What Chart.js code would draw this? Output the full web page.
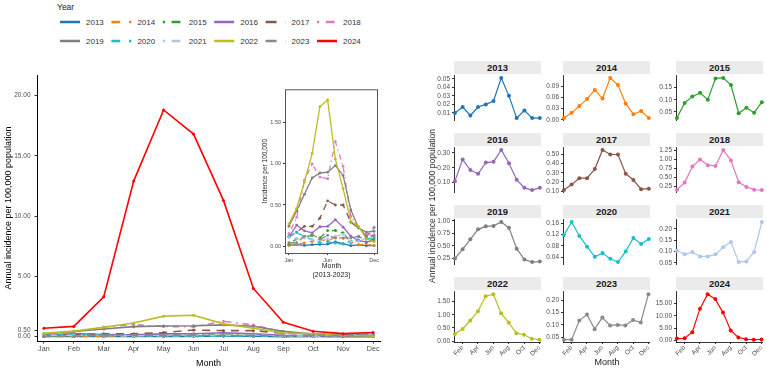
<!DOCTYPE html>
<html>
<head>
<meta charset="utf-8">
<script src="https://cdn.jsdelivr.net/npm/chart.js@4.4.1/dist/chart.umd.min.js"></script>
<style>
  body { margin: 0; width: 767px; height: 370px; overflow: hidden; background: #fff; position: relative;
         font-family: "Liberation Sans", Arial, sans-serif; color: #1a1a1a; }
  canvas { position: absolute; }
  .txt { position: absolute; white-space: nowrap; }
  .strip { position: absolute; background: #ebebeb; font-weight: bold; font-size: 9.5px; text-align: center;
           line-height: 13px; height: 13px; color: #1a1a1a; }
</style>
</head>
<body>
<script>
// ---- data ----
const months = ['Jan', 'Feb', 'Mar', 'Apr', 'May', 'Jun', 'Jul', 'Aug', 'Sep', 'Oct', 'Nov', 'Dec'];
const years = ['2013', '2014', '2015', '2016', '2017', '2018', '2019', '2020', '2021', '2022', '2023', '2024'];

const inc2013 = [0.010, 0.017, 0.007, 0.017, 0.020, 0.024, 0.051, 0.030, 0.004, 0.013, 0.004, 0.004];
const inc2014 = [0.005, 0.019, 0.037, 0.056, 0.080, 0.057, 0.112, 0.093, 0.044, 0.015, 0.024, 0.005];
const inc2015 = [0.025, 0.087, 0.113, 0.128, 0.100, 0.187, 0.189, 0.160, 0.045, 0.067, 0.047, 0.090];
const inc2016 = [0.11, 0.255, 0.185, 0.16, 0.235, 0.24, 0.32, 0.23, 0.12, 0.065, 0.05, 0.065];
const inc2017 = [0.11, 0.17, 0.24, 0.24, 0.34, 0.55, 0.50, 0.50, 0.29, 0.22, 0.12, 0.125];
const inc2018 = [0.15, 0.35, 0.80, 1.00, 0.84, 0.82, 1.27, 0.97, 0.36, 0.23, 0.15, 0.14];
const inc2019 = [0.24, 0.43, 0.63, 0.83, 0.89, 0.90, 0.98, 0.86, 0.44, 0.22, 0.17, 0.18];
const inc2020 = [0.118, 0.165, 0.115, 0.077, 0.041, 0.054, 0.034, 0.022, 0.060, 0.108, 0.086, 0.104];
const inc2021 = [0.103, 0.088, 0.097, 0.078, 0.078, 0.087, 0.118, 0.142, 0.053, 0.056, 0.098, 0.230];
const inc2022 = [0.27, 0.46, 0.78, 1.13, 1.70, 1.78, 1.06, 0.70, 0.30, 0.24, 0.09, 0.05];
const inc2023 = [0.040, 0.040, 0.118, 0.142, 0.083, 0.130, 0.098, 0.100, 0.098, 0.120, 0.110, 0.225];
const inc2024 = [0.7, 0.85, 3.3, 12.9, 18.8, 16.8, 11.3, 4.0, 1.2, 0.45, 0.25, 0.35];
const series = [inc2013, inc2014, inc2015, inc2016, inc2017, inc2018, inc2019, inc2020, inc2021, inc2022, inc2023, inc2024];

const mainTicks = [0, 0.5, 5, 10, 15, 20];
const insetTicks = [0, 0.5, 1, 1.5];
const insetMonthTicks = [1, 6, 12];
const panelSteps = [0.01, 0.03, 0.05, 0.1, 0.1, 0.25, 0.25, 0.04, 0.05, 0.5, 0.05, 5];

// ---- styles ----
const colors = ['#1f77b4', '#ff7f0e', '#2ca02c', '#9467bd', '#8c564b', '#e377c2',
                '#7f7f7f', '#17becf', '#aec7e8', '#bcbd22', '#8a8a8a', '#ff0000'];
const lineTypes = ['solid', 'dashed', 'dotdash', 'solid', 'longdash', 'dotdash',
                   'solid', 'dashed', 'dotdash', 'solid', 'longdash', 'solid'];
function dash(i, u) {
  const t = lineTypes[i];
  if (t === 'dashed') return [4 * u, 4 * u];
  if (t === 'longdash') return [5 * u, 4 * u];
  if (t === 'dotdash') return [u, 3 * u, 4 * u, 3 * u];
  return [];
}

Chart.defaults.font.family = '"Liberation Sans", Arial, sans-serif';
Chart.defaults.animation = false;
Chart.defaults.events = [];
Chart.defaults.plugins.legend.display = false;
Chart.defaults.plugins.tooltip.enabled = false;

const tickGray = '#4d4d4d';

function addText(txt, x, y, size, opts = {}) {
  const d = document.createElement('div');
  d.className = 'txt';
  d.textContent = txt;
  d.style.left = x + 'px';
  d.style.top = y + 'px';
  d.style.fontSize = size + 'px';
  if (opts.rotate) d.style.transform = 'translate(-50%,-50%) rotate(-90deg)';
  else if (opts.center) d.style.transform = 'translate(-50%,-50%)';
  else d.style.transform = 'translate(0,-50%)';
  if (opts.color) d.style.color = opts.color;
  document.body.appendChild(d);
}

function makeCanvas(left, top, w, h) {
  const c = document.createElement('canvas');
  c.width = w; c.height = h;
  c.style.left = left + 'px'; c.style.top = top + 'px';
  c.style.width = w + 'px'; c.style.height = h + 'px';
  document.body.appendChild(c);
  return c;
}

function pts(vals) { return vals.map((v, j) => ({ x: j + 1, y: v })); }

// ---- legend ----
addText('Year', 57, 7, 8.5);
const svgNS = 'http://www.w3.org/2000/svg';
const svg = document.createElementNS(svgNS, 'svg');
svg.setAttribute('width', '400'); svg.setAttribute('height', '55');
svg.style.position = 'absolute'; svg.style.left = '0'; svg.style.top = '0';
document.body.appendChild(svg);
years.forEach((y, i) => {
  const x0 = 60 + (i % 6) * 51.4;
  const yy = i < 6 ? 22 : 41;
  const ln = document.createElementNS(svgNS, 'line');
  ln.setAttribute('x1', x0); ln.setAttribute('x2', x0 + 20);
  ln.setAttribute('y1', yy); ln.setAttribute('y2', yy);
  ln.setAttribute('stroke', colors[i]); ln.setAttribute('stroke-width', '2.5');
  const d = dash(i, 2.2);
  if (d.length) ln.setAttribute('stroke-dasharray', d.join(' '));
  svg.appendChild(ln);
  addText(y, x0 + 26, yy, 8, { color: '#333' });
});

// ---- main chart ----
const mainDatasets = years.map((y, i) => ({
  label: y,
  data: pts(series[i]),
  borderColor: colors[i],
  backgroundColor: colors[i],
  borderWidth: 1.6,
  borderDash: dash(i, 1.6),
  pointRadius: 1.5,
  pointBorderWidth: 0,
  order: years.length - i,
  clip: false
}));

new Chart(makeCanvas(0, 60, 392, 310), {
  type: 'line',
  data: { datasets: mainDatasets },
  options: {
    responsive: false,
    layout: { padding: { top: 15, right: 12, left: 0, bottom: 0 } },
    scales: {
      x: {
        type: 'linear', min: 0.77, max: 12.23,
        afterBuildTicks: s => { s.ticks = months.map((m, j) => ({ value: j + 1 })); },
        afterFit: s => { s.height = 29; },
        ticks: { callback: v => months[v - 1], color: tickGray, font: { size: 7.2 }, autoSkip: false, maxRotation: 0, padding: 1 },
        grid: { drawOnChartArea: false, tickLength: 2.5, color: '#333' },
        border: { color: '#000', width: 1 },
        title: { display: true, text: 'Month', color: '#000', font: { size: 9 }, padding: { top: 0, bottom: 1 } }
      },
      y: {
        min: -0.36, max: 21.7,
        afterBuildTicks: s => { s.ticks = mainTicks.map(v => ({ value: v })); },
        afterFit: s => { s.width = 37; },
        ticks: { callback: v => v.toFixed(2), color: tickGray, font: { size: 6.5 }, autoSkip: false, padding: 4 },
        grid: { drawOnChartArea: false, tickLength: 2.5, color: '#333' },
        border: { color: '#000', width: 1 },
        title: { display: true, text: 'Annual incidence per 100,000 population', color: '#000', font: { size: 9 }, padding: { top: 3, bottom: 0 } }
      }
    }
  }
});

// ---- inset (2013-2023) ----
const boxPlugin = {
  id: 'box',
  beforeDraw(chart) {
    const a = chart.chartArea, ctx = chart.ctx;
    ctx.save();
    ctx.fillStyle = '#fff';
    ctx.fillRect(a.left, a.top, a.right - a.left, a.bottom - a.top);
    ctx.restore();
  },
  afterDraw(chart) {
    const a = chart.chartArea, ctx = chart.ctx;
    ctx.save();
    ctx.strokeStyle = '#555';
    ctx.lineWidth = 1;
    ctx.strokeRect(a.left + 0.5, a.top + 0.5, a.right - a.left - 1, a.bottom - a.top);
    ctx.restore();
  }
};

const insetDatasets = years.slice(0, 11).map((y, i) => ({
  label: y,
  data: pts(series[i]),
  borderColor: colors[i],
  backgroundColor: colors[i],
  borderWidth: 1.3,
  borderDash: dash(i, 1.3),
  pointRadius: 1.4,
  pointBorderWidth: 0,
  order: 11 - i
}));

new Chart(makeCanvas(258, 84, 124, 196), {
  type: 'line',
  data: { datasets: insetDatasets },
  plugins: [boxPlugin],
  options: {
    responsive: false,
    layout: { padding: { top: 4, right: 3, left: 0, bottom: 0 } },
    scales: {
      x: {
        type: 'linear', min: 0.49, max: 12.51,
        afterBuildTicks: s => { s.ticks = insetMonthTicks.map(v => ({ value: v })); },
        afterFit: s => { s.height = 27; },
        ticks: { callback: v => months[v - 1], color: tickGray, font: { size: 5.5 }, autoSkip: false, maxRotation: 0, padding: 2 },
        grid: { drawOnChartArea: false, tickLength: 2, color: '#333' },
        border: { display: false },
        title: { display: true, text: ['Month', '(2013-2023)'], color: '#1a1a1a', font: { size: 7 }, padding: { top: 0, bottom: 1 } }
      },
      y: {
        min: -0.085, max: 1.91,
        afterBuildTicks: s => { s.ticks = insetTicks.map(v => ({ value: v })); },
        afterFit: s => { s.width = 27; },
        ticks: { callback: v => v.toFixed(2), color: tickGray, font: { size: 5.5 }, autoSkip: false, padding: 2 },
        grid: { drawOnChartArea: false, tickLength: 2, color: '#333' },
        border: { display: false },
        title: { display: true, text: 'Incidence per 100,000', color: '#1a1a1a', font: { size: 6.5 }, padding: { top: 3, bottom: 1 } }
      }
    }
  }
});

// ---- small multiples ----
const colX = [454, 563, 676];
const rowTop = [61, 133, 205, 277];
const stripH = 13, plotH = 52, plotW = 87;

years.forEach((y, k) => {
  const r = Math.floor(k / 3), c = k % 3;
  const bottomRow = r === 3;
  const vals = series[k];
  const lo = Math.min(...vals), hi = Math.max(...vals);
  const ex = (hi - lo) * 0.05;
  const step = panelSteps[k];
  const cv = makeCanvas(colX[c] - 30, rowTop[r] + stripH - 4, 30 + plotW + 4, plotH + 4 + (bottomRow ? 24 : 0));
  new Chart(cv, {
    type: 'line',
    data: {
      datasets: [{
        label: y, data: pts(vals),
        borderColor: colors[k], backgroundColor: colors[k],
        borderWidth: 1.2, pointRadius: 2, pointBorderWidth: 0, clip: false
      }]
    },
    options: {
      responsive: false,
      layout: { padding: { top: 4, right: 4, left: 0, bottom: 0 } },
      scales: {
        x: {
          type: 'linear', min: 0.88, max: 12.15, display: bottomRow,
          afterBuildTicks: s => { s.ticks = [2, 4, 6, 8, 10, 12].map(v => ({ value: v })); },
          afterFit: s => { s.height = bottomRow ? 24 : 0; },
          ticks: { callback: v => months[v - 1], color: tickGray, font: { size: 6.5 }, autoSkip: false,
                   maxRotation: 45, minRotation: 45, padding: 0 },
          grid: { drawOnChartArea: false, tickLength: 2, color: '#333' },
          border: { color: '#000', width: 0.8 }
        },
        y: {
          min: lo - ex, max: hi + ex,
          afterBuildTicks: s => {
            const t = [];
            for (let v = Math.ceil((s.min - 1e-9) / step) * step; v <= s.max + 1e-9; v += step) t.push({ value: v });
            s.ticks = t;
          },
          afterFit: s => { s.width = 30; },
          ticks: { callback: v => v.toFixed(2), color: tickGray, font: { size: 6.5 }, autoSkip: false, padding: 2 },
          grid: { drawOnChartArea: false, tickLength: 2, color: '#333' },
          border: { color: '#000', width: 0.8 }
        }
      }
    }
  });
  const s = document.createElement('div');
  s.className = 'strip';
  s.textContent = y;
  s.style.left = colX[c] + 'px';
  s.style.top = rowTop[r] + 'px';
  s.style.width = plotW + 'px';
  document.body.appendChild(s);
});

addText('Annual incidence per 100,000 population', 432, 206, 8.5, { rotate: true });
addText('Month', 607, 362, 9, { center: true });
</script>
</body>
</html>
